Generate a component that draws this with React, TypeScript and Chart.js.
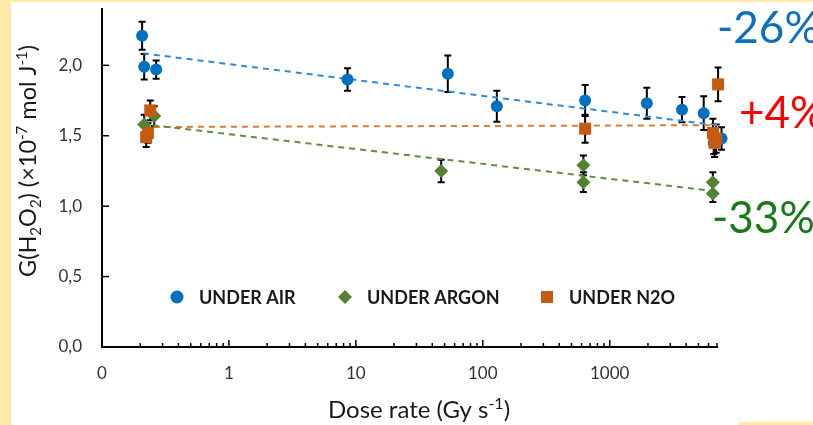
import React, { useEffect, useRef } from 'react';
import { Chart, registerables } from 'chart.js';
Chart.register(...registerables);

// ---- data ----
const seriesNames = ['UNDER AIR', 'UNDER ARGON', 'UNDER N2O'];
const seriesColors = ['#0070C0', '#548235', '#C55A11'];
const trendColors = ['#2E8BDA', '#5E8F3C', '#E07B35'];

const airX = [0.207, 0.215, 0.267, 8.6, 53, 129, 640, 1960, 3710, 5500, 6600, 7600];
const airY = [2.21, 1.99, 1.97, 1.9, 1.94, 1.71, 1.75, 1.73, 1.685, 1.66, 1.45, 1.48];
const airErr = [0.1, 0.09, 0.065, 0.08, 0.13, 0.11, 0.11, 0.11, 0.09, 0.12, 0.08, 0.08];

const argonX = [0.215, 0.258, 47, 620, 620, 6490, 6490];
const argonY = [1.58, 1.64, 1.25, 1.29, 1.17, 1.17, 1.09];
const argonErr = [0.07, 0.07, 0.08, 0.07, 0.07, 0.07, 0.06];

const n2oX = [0.223, 0.23, 0.24, 640, 7140, 6500, 6900, 6700];
const n2oY = [1.49, 1.52, 1.68, 1.55, 1.865, 1.52, 1.48, 1.45];
const n2oErr = [0.07, 0.07, 0.07, 0.1, 0.12, 0.1, 0.1, 0.1];

const airTrendX = [0.21, 7000];
const airTrendY = [2.085, 1.575];
const argonTrendX = [0.25, 7000];
const argonTrendY = [1.575, 1.105];
const n2oTrendX = [0.21, 7000];
const n2oTrendY = [1.562, 1.575];

const xTickValues = [0.1, 1, 10, 100, 1000];
const xTickLabels = ['0', '1', '10', '100', '1000'];
const yTickValues = [0, 0.5, 1, 1.5, 2];
const yTickLabels = ['0,0', '0,5', '1,0', '1,5', '2,0'];

const percentLabels = ['-26%', '+4%', '-33%'];
const percentColors = ['#0B6FC2', '#FF0000', '#1A7A1A'];

const FONT = 'Lato, "Open Sans", sans-serif';

type Part = { t: string; sub?: boolean; sup?: boolean };
const yTitleParts: Part[] = [
  { t: 'G(H' }, { t: '2', sub: true }, { t: 'O' }, { t: '2', sub: true },
  { t: ') (×10' }, { t: '-7', sup: true }, { t: ' mol J' }, { t: '-1', sup: true }, { t: ')' },
];
const xTitleParts: Part[] = [{ t: 'Dose rate (Gy s' }, { t: '-1', sup: true }, { t: ')' }];

function drawRich(ctx: CanvasRenderingContext2D, parts: Part[], size: number, cx: number, baseline: number) {
  const small = Math.round(size * 0.65);
  const widths = parts.map((p) => {
    ctx.font = `${p.sub || p.sup ? small : size}px ${FONT}`;
    return ctx.measureText(p.t).width;
  });
  const total = widths.reduce((a, b) => a + b, 0);
  let x = cx - total / 2;
  ctx.textAlign = 'left';
  ctx.textBaseline = 'alphabetic';
  parts.forEach((p, i) => {
    ctx.font = `${p.sub || p.sup ? small : size}px ${FONT}`;
    const dy = p.sub ? size * 0.22 : p.sup ? -size * 0.38 : 0;
    ctx.fillText(p.t, x, baseline + dy);
    x += widths[i];
  });
}

const errorData = [
  { x: airX, y: airY, e: airErr },
  { x: argonX, y: argonY, e: argonErr },
  { x: n2oX, y: n2oY, e: n2oErr },
];

const decorPlugin = {
  id: 'decor',
  beforeDatasetsDraw(chart: any) {
    const ctx = chart.ctx as CanvasRenderingContext2D;
    const xs = chart.scales.x;
    const ys = chart.scales.y;
    ctx.save();
    ctx.strokeStyle = '#000';
    ctx.lineWidth = 2;
    errorData.forEach((s) => {
      s.x.forEach((xv, i) => {
        const px = xs.getPixelForValue(xv);
        const top = ys.getPixelForValue(s.y[i] + s.e[i]);
        const bot = ys.getPixelForValue(s.y[i] - s.e[i]);
        ctx.beginPath();
        ctx.moveTo(px, top);
        ctx.lineTo(px, bot);
        ctx.moveTo(px - 3.5, top);
        ctx.lineTo(px + 3.5, top);
        ctx.moveTo(px - 3.5, bot);
        ctx.lineTo(px + 3.5, bot);
        ctx.stroke();
      });
    });
    ctx.restore();
  },
  afterDraw(chart: any) {
    const ctx = chart.ctx as CanvasRenderingContext2D;
    const xs = chart.scales.x;
    const ys = chart.scales.y;
    const area = chart.chartArea;
    ctx.save();
    // inward tick marks
    ctx.strokeStyle = '#000';
    ctx.lineWidth = 1.5;
    const xmax = xs.max;
    xTickValues.forEach((d) => {
      for (let m = 1; m <= 9; m++) {
        const v = d * m;
        if (v > xmax * 1.0001) break;
        const px = xs.getPixelForValue(v);
        const len = m === 1 ? 7 : 4;
        ctx.beginPath();
        ctx.moveTo(px, area.bottom);
        ctx.lineTo(px, area.bottom - len);
        ctx.stroke();
      }
    });
    yTickValues.forEach((v) => {
      const py = ys.getPixelForValue(v);
      ctx.beginPath();
      ctx.moveTo(area.left, py);
      ctx.lineTo(area.left + 7, py);
      ctx.stroke();
    });

    // legend
    const legendY = 297;
    const markerX = [177, 345, 547];
    const styles = ['circle', 'rectRot', 'rect'];
    styles.forEach((st, i) => {
      ctx.fillStyle = seriesColors[i];
      ctx.beginPath();
      const mx = markerX[i];
      if (st === 'circle') ctx.arc(mx, legendY, 6.5, 0, Math.PI * 2);
      else if (st === 'rectRot') {
        ctx.moveTo(mx - 7, legendY);
        ctx.lineTo(mx, legendY - 7);
        ctx.lineTo(mx + 7, legendY);
        ctx.lineTo(mx, legendY + 7);
        ctx.closePath();
      } else ctx.rect(mx - 6, legendY - 6, 12, 12);
      ctx.fill();
      ctx.fillStyle = '#1a1a1a';
      ctx.font = `bold 18px ${FONT}`;
      ctx.textAlign = 'left';
      ctx.textBaseline = 'middle';
      ctx.fillText(seriesNames[i], mx + 22, legendY + 1);
    });

    // axis titles
    ctx.fillStyle = '#1a1a1a';
    ctx.save();
    ctx.translate(27, 161);
    ctx.rotate(-Math.PI / 2);
    drawRich(ctx, yTitleParts, 23.5, 0, 8.5);
    ctx.restore();
    drawRich(ctx, xTitleParts, 24, 419, 418);

    // percent labels
    const pX = [717, 739, 712];
    const pY = [43, 128, 233];
    percentLabels.forEach((t, i) => {
      ctx.fillStyle = percentColors[i];
      ctx.font = `44px ${FONT}`;
      ctx.textAlign = 'left';
      ctx.textBaseline = 'alphabetic';
      ctx.fillText(t, pX[i], pY[i]);
    });
    ctx.restore();
  },
};

function pts(xs: number[], ys: number[]) {
  return xs.map((x, i) => ({ x, y: ys[i] }));
}

export default function App() {
  const ref = useRef<HTMLCanvasElement | null>(null);
  useEffect(() => {
    document.body.style.margin = '0';
    const canvas = ref.current!;
    const tickFont = { family: FONT, size: 17 };
    const chart = new Chart(canvas, {
      type: 'scatter',
      data: {
        datasets: [
          { label: seriesNames[0], data: pts(airX, airY), pointStyle: 'circle', pointRadius: 6, backgroundColor: seriesColors[0], borderColor: seriesColors[0], borderWidth: 0, order: 3, clip: false } as any,
          { label: seriesNames[1], data: pts(argonX, argonY), pointStyle: 'rectRot', pointRadius: 7, backgroundColor: seriesColors[1], borderColor: seriesColors[1], borderWidth: 0, order: 2, clip: false } as any,
          { label: seriesNames[2], data: pts(n2oX, n2oY), pointStyle: 'rect', pointRadius: 8.5, backgroundColor: seriesColors[2], borderColor: seriesColors[2], borderWidth: 0, order: 1, clip: false } as any,
          { label: 'trend air', type: 'line', data: pts(airTrendX, airTrendY), borderColor: trendColors[0], borderDash: [6, 5], borderWidth: 2, pointRadius: 0, order: 10, fill: false, clip: false } as any,
          { label: 'trend argon', type: 'line', data: pts(argonTrendX, argonTrendY), borderColor: trendColors[1], borderDash: [6, 5], borderWidth: 2, pointRadius: 0, order: 10, fill: false, clip: false } as any,
          { label: 'trend n2o', type: 'line', data: pts(n2oTrendX, n2oTrendY), borderColor: trendColors[2], borderDash: [6, 5], borderWidth: 2, pointRadius: 0, order: 10, fill: false, clip: false } as any,
        ],
      },
      options: {
        responsive: false,
        animation: false,
        devicePixelRatio: 1,
        layout: { padding: { left: 0, top: 9, right: 96, bottom: 0 } },
        plugins: { legend: { display: false }, tooltip: { enabled: false } },
        scales: {
          x: {
            type: 'logarithmic',
            min: 0.1,
            max: 7000,
            grid: { display: false, drawTicks: false },
            border: { display: true, color: '#000', width: 2 },
            afterBuildTicks: (s: any) => { s.ticks = xTickValues.map((v) => ({ value: v })); },
            ticks: { callback: (_v: any, i: number) => xTickLabels[i], font: tickFont, color: '#333', padding: 16, maxRotation: 0, autoSkip: false },
            afterFit: (s: any) => { s.height = 78; s.paddingLeft = 0; s.paddingRight = 0; },
          },
          y: {
            type: 'linear',
            min: 0,
            max: 2.4,
            grid: { display: false, drawTicks: false },
            border: { display: true, color: '#000', width: 2 },
            afterBuildTicks: (s: any) => { s.ticks = yTickValues.map((v) => ({ value: v })); },
            ticks: { callback: (_v: any, i: number) => yTickLabels[i], font: tickFont, color: '#333', padding: 20, autoSkip: false },
            afterFit: (s: any) => { s.width = 102; s.paddingTop = 0; s.paddingBottom = 0; },
          },
        },
      } as any,
      plugins: [decorPlugin],
    });
    return () => chart.destroy();
  }, []);

  return (
    <div style={{ position: 'relative', width: 813, height: 425, background: '#FFE9A8', overflow: 'hidden' }}>
      <div style={{ position: 'absolute', left: 11, top: 2, width: 802, height: 423, background: '#fff' }} />
      <div style={{ position: 'absolute', left: 739, top: 422, width: 74, height: 3, background: '#FFE9A8' }} />
      <canvas ref={ref} width={813} height={425} style={{ position: 'absolute', left: 0, top: 0, display: 'block' }} />
    </div>
  );
}
